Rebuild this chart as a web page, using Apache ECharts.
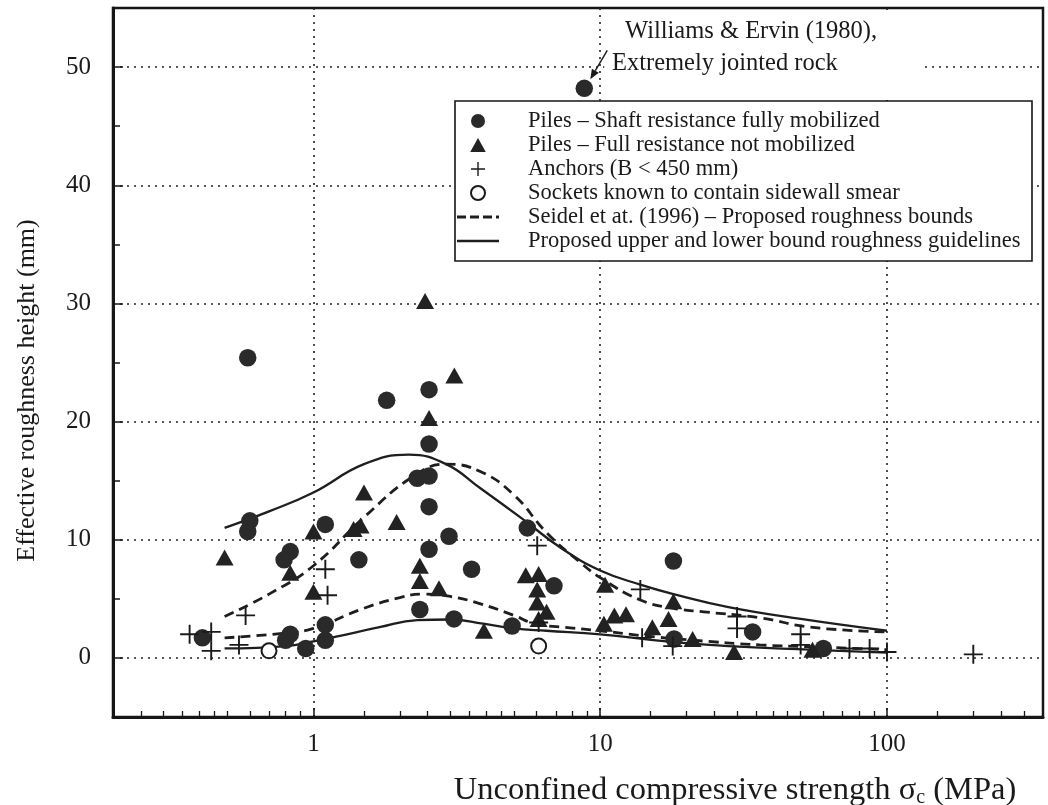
<!DOCTYPE html>
<html>
<head>
<meta charset="utf-8">
<script src="https://cdn.jsdelivr.net/npm/echarts@6/dist/echarts.min.js"></script>
<style>
  html, body { margin: 0; padding: 0; background: #fff; }
  #chart { width: 1048px; height: 805px; }
</style>
</head>
<body>
<div id="chart"></div>
<script>
// Effective roughness height of rock sockets against unconfined compressive strength

// ---- axis ticks ----
const xMajorTicks = [1, 10, 100];
const xMinorTicks = [0.25, 0.3, 0.35, 0.4, 0.45, 0.5, 0.6, 0.7, 0.8, 0.9,
                     1.5, 2, 2.5, 3, 3.5, 4, 4.5, 5, 6, 7, 8, 9,
                     15, 20, 25, 30, 35, 40, 45, 50, 60, 70, 80, 90,
                     150, 200, 250, 300];
const yMajorTicks = [0, 10, 20, 30, 40, 50];
const yMinorTicks = [5, 15, 25, 35, 45];

// ---- measured points [sigma_c (MPa), roughness (mm)] ----
const pilesMobilized = [
  [0.41, 1.7], [0.59, 25.4], [0.60, 11.6], [0.59, 10.7], [0.80, 1.5], [0.83, 2.0],
  [0.83, 9.0], [0.79, 8.3], [0.94, 0.8], [1.10, 11.3], [1.10, 2.8], [1.10, 1.5],
  [1.44, 8.3], [1.80, 21.8], [2.30, 15.2], [2.53, 15.4], [2.53, 22.7], [2.53, 18.1],
  [2.53, 12.8], [2.53, 9.2], [2.35, 4.1], [2.97, 10.3], [3.09, 3.3], [3.56, 7.5],
  [4.93, 2.7], [5.57, 11.0], [6.9, 6.1], [8.8, 48.2], [18.0, 8.2], [18.1, 1.6],
  [34, 2.2], [60, 0.8]
];
const pilesNotMobilized = [
  [0.49, 8.5], [0.83, 7.2], [1.0, 10.7], [1.0, 5.6], [1.50, 14.0], [1.46, 11.2],
  [1.38, 10.9], [1.95, 11.5], [2.45, 30.2], [2.53, 20.3], [3.10, 23.9], [2.35, 7.8],
  [2.35, 6.5], [2.74, 5.9], [3.93, 2.3], [5.5, 7.0], [6.1, 7.1], [6.03, 5.8],
  [6.03, 4.7], [6.5, 3.9], [6.1, 3.3], [10.4, 6.2], [11.2, 3.6], [12.3, 3.7],
  [10.3, 2.9], [15.2, 2.6], [18.0, 4.8], [17.3, 3.3], [21, 1.6], [29.3, 0.5], [55, 0.7]
];
const anchors = [
  [0.37, 2.0], [0.44, 2.2], [0.44, 0.6], [0.58, 3.6], [0.55, 1.1], [1.10, 7.5],
  [1.12, 5.3], [6.03, 9.5], [6.1, 3.0], [13.8, 5.8], [14.0, 1.7], [17.9, 1.0],
  [30, 3.5], [30, 2.5], [50, 2.0], [50, 1.1], [74, 0.8], [87, 0.8], [100, 0.5], [200, 0.3]
];
const sidewallSmear = [[0.70, 0.6], [6.1, 1.0]];

// ---- bound curves ----
const seidelUpper = [
  [0.49, 3.5], [0.7, 5.4], [1.0, 7.8], [1.5, 11.9], [2.24, 15.4], [2.9, 16.4],
  [3.8, 15.8], [5.0, 13.8], [6.5, 10.6], [8.5, 8.1], [10, 6.8], [13.8, 4.9],
  [18, 4.2], [23, 3.9], [36, 3.4], [54, 2.6], [100, 2.2]
];
const seidelLower = [
  [0.49, 1.7], [0.8, 2.1], [1.0, 2.5], [1.5, 4.2], [2.0, 5.1], [2.4, 5.4], [3.0, 5.2],
  [3.8, 4.6], [5.0, 3.6], [5.9, 2.9], [7.4, 2.6], [10, 2.3], [13.8, 1.9], [21, 1.5],
  [36, 1.1], [54, 0.95], [100, 0.7]
];
const guideUpper = [
  [0.49, 11.0], [0.7, 12.4], [1.0, 14.0], [1.5, 16.4], [2.15, 17.2], [2.9, 16.4],
  [3.8, 14.4], [5.4, 11.7], [7.3, 9.3], [10, 7.4], [13.8, 6.2], [18, 5.4], [28, 4.3],
  [50, 3.3], [100, 2.3]
];
const guideLower = [
  [0.49, 0.8], [0.8, 1.0], [1.0, 1.4], [1.2, 1.8], [1.7, 2.6], [2.3, 3.2], [3.0, 3.25],
  [3.9, 2.9], [5.0, 2.5], [6.5, 2.3], [10, 2.0], [17, 1.4], [28, 1.0], [54, 0.7], [100, 0.45]
];

const annotationPoint = [8.8, 48.2];

const NAME_CIRCLE = 'Piles \u2013 Shaft resistance fully mobilized';
const NAME_TRI = 'Piles \u2013 Full resistance not mobilized';
const NAME_PLUS = 'Anchors (B < 450 mm)';
const NAME_OPEN = 'Sockets known to contain sidewall smear';
const NAME_SEIDEL = 'Seidel et at. (1996) \u2013 Proposed roughness bounds';
const NAME_GUIDE = 'Proposed upper and lower bound roughness guidelines';

const FONT = '"Liberation Serif", "DejaVu Serif", serif';
const INK = '#161616';
const PLUS_PATH = 'path://M9,0H11V9H20V11H11V20H9V11H0V9H9Z';
const TRI_PATH = 'path://M5,0L10,9L0,9Z';
const DASH_ICON = 'path://M0,0H9V3H0Z M13,0H22V3H13Z M26,0H35V3H26Z M39,0H42V3H39Z';
const SOLID_ICON = 'path://M0,0H42V2.4H0Z';

const chart = echarts.init(document.getElementById('chart'), null, { renderer: 'canvas' });

const dotted = { type: [2, 5], color: '#222', width: 1.6 };

function lineSeries(name, data, dashed) {
  return {
    type: 'line', name, data, smooth: 0.45, symbol: 'none', z: 2,
    lineStyle: { color: '#1e1e1e', width: dashed ? 2.8 : 2.3, type: dashed ? [10, 6] : 'solid' },
    itemStyle: { color: '#1e1e1e' }
  };
}

const option = {
  backgroundColor: '#fff',
  animation: false,
  grid: {
    left: 113, right: 5, top: 8, bottom: 88,
    outerBoundsMode: 'none', containLabel: false,
    show: true, borderColor: INK, borderWidth: 2.5
  },
  xAxis: [
    {
      type: 'log', logBase: 10, min: 0.2, max: 350,
      axisLine: { show: true, onZero: false, lineStyle: { color: INK, width: 3 } },
      axisTick: { show: true, inside: true, length: 9, customValues: xMajorTicks, lineStyle: { color: INK, width: 1.5 } },
      axisLabel: {
        customValues: xMajorTicks, margin: 15, color: '#1a1a1a', fontFamily: FONT, fontSize: 25,
        formatter: v => String(Math.round(v))
      },
      splitLine: { show: true, lineStyle: dotted },
      minorTick: { show: false },
      name: '{t|Unconfined compressive strength \u03c3}{s|c}{t| (MPa)}',
      nameLocation: 'middle', nameGap: 55,
      nameTextStyle: {
        padding: [0, 0, 0, 314],
        rich: {
          t: { fontFamily: FONT, fontSize: 32.5, color: '#1a1a1a', lineHeight: 36 },
          s: { fontFamily: FONT, fontSize: 20, color: '#1a1a1a', lineHeight: 19, verticalAlign: 'bottom' }
        }
      }
    },
    {
      type: 'log', logBase: 10, min: 0.2, max: 350, gridIndex: 0, position: 'bottom',
      axisLine: { show: false, onZero: false },
      axisTick: { show: true, inside: true, length: 6, customValues: xMinorTicks, lineStyle: { color: INK, width: 1.3 } },
      axisLabel: { show: false },
      splitLine: { show: false }
    }
  ],
  yAxis: [
    {
      type: 'value', min: -5, max: 55,
      axisLine: { show: true, onZero: false, lineStyle: { color: INK, width: 3 } },
      axisTick: { show: true, inside: true, length: 10, customValues: yMajorTicks, lineStyle: { color: INK, width: 1.5 } },
      axisLabel: {
        customValues: yMajorTicks, margin: 22, color: '#1a1a1a', fontFamily: FONT, fontSize: 25,
        formatter: v => (Math.round(v) % 10 === 0 ? String(Math.round(v)) : '')
      },
      splitLine: { show: true, lineStyle: dotted },
      name: 'Effective roughness height (mm)',
      nameLocation: 'middle', nameGap: 73, nameRotate: 90,
      nameTextStyle: { fontFamily: FONT, fontSize: 26, color: '#1a1a1a', padding: [0, 56, 0, 0] }
    },
    {
      type: 'value', min: -5, max: 55, gridIndex: 0, position: 'left',
      axisLine: { show: false, onZero: false },
      axisTick: { show: true, inside: true, length: 7, customValues: yMinorTicks, lineStyle: { color: INK, width: 1.5 } },
      axisLabel: { show: false },
      splitLine: { show: false }
    }
  ],
  legend: {
    orient: 'vertical', left: 455, top: 101,
    data: [
      { name: NAME_CIRCLE },
      { name: NAME_TRI },
      { name: NAME_PLUS },
      { name: NAME_OPEN },
      { name: NAME_SEIDEL, icon: DASH_ICON },
      { name: NAME_GUIDE, icon: SOLID_ICON }
    ],
    backgroundColor: '#fff', borderColor: INK, borderWidth: 1.6, borderRadius: 0,
    padding: [8, 4, 8, 2],
    itemWidth: 42, itemHeight: 14, itemGap: 0,
    selectedMode: false,
    textStyle: { fontFamily: FONT, fontSize: 22.5, color: '#1a1a1a', lineHeight: 24, padding: [0, 0, 0, 24], width: 500 },
    z: 6
  },
  series: [
    lineSeries(NAME_SEIDEL, seidelUpper, true),
    lineSeries(NAME_SEIDEL, seidelLower, true),
    lineSeries(NAME_GUIDE, guideUpper, false),
    lineSeries(NAME_GUIDE, guideLower, false),
    {
      type: 'scatter', name: NAME_CIRCLE, data: pilesMobilized, symbol: 'circle', symbolSize: 17.5, z: 3,
      itemStyle: { color: '#2a2a2a', opacity: 1 }
    },
    {
      type: 'scatter', name: NAME_TRI, data: pilesNotMobilized, symbol: TRI_PATH, symbolSize: [18, 16], z: 3,
      itemStyle: { color: '#222', opacity: 1 }
    },
    {
      type: 'scatter', name: NAME_PLUS, data: anchors, symbol: PLUS_PATH, symbolSize: 19, z: 3,
      itemStyle: { color: '#1a1a1a', opacity: 1 }
    },
    {
      type: 'scatter', name: NAME_OPEN, data: sidewallSmear, symbol: 'emptyCircle', symbolSize: 15, z: 4,
      itemStyle: { color: '#1a1a1a', borderWidth: 2, opacity: 1 }
    }
  ]
};

chart.setOption(option);

// Annotation for the isolated Williams & Ervin point
const p = chart.convertToPixel({ xAxisIndex: 0, yAxisIndex: 0 }, annotationPoint);
const g10 = chart.convertToPixel({ xAxisIndex: 0, yAxisIndex: 0 }, [10, 50]);
const tail = [p[0] + 23, p[1] - 38];
const head = [p[0] + 6, p[1] - 9];
const ang = Math.atan2(head[1] - tail[1], head[0] - tail[0]);
const ah = 10, aw = 4;
const back = [head[0] - ah * Math.cos(ang), head[1] - ah * Math.sin(ang)];
const arrowHead = [
  head,
  [back[0] + aw * Math.sin(ang), back[1] - aw * Math.cos(ang)],
  [back[0] - aw * Math.sin(ang), back[1] + aw * Math.cos(ang)]
];

chart.setOption({
  graphic: [
    {
      // white label box behind the annotation text
      type: 'rect', z: 1, silent: true,
      shape: { x: g10[0] + 4, y: 10, width: 925 - (g10[0] + 4), height: 90 },
      style: { fill: '#fff' }
    },
    {
      type: 'text', z: 10, left: 625, top: 19,
      style: { text: 'Williams & Ervin (1980),', font: '24.5px ' + FONT, fill: '#1a1a1a' }
    },
    {
      type: 'text', z: 10, left: 612, top: 51,
      style: { text: 'Extremely jointed rock', font: '24.5px ' + FONT, fill: '#1a1a1a' }
    },
    {
      type: 'line', z: 10, silent: true,
      shape: { x1: tail[0], y1: tail[1], x2: back[0], y2: back[1] },
      style: { stroke: '#1a1a1a', lineWidth: 1.4 }
    },
    {
      type: 'polygon', z: 10, silent: true,
      shape: { points: arrowHead },
      style: { fill: '#1a1a1a' }
    }
  ]
});
</script>
</body>
</html>
